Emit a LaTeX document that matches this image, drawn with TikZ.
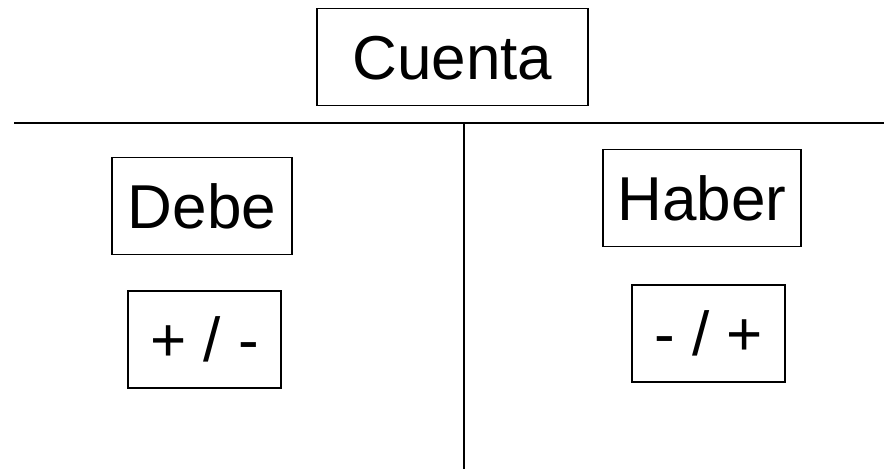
\documentclass[tikz,border=0pt]{standalone}
\usepackage{fontspec}
\setmainfont{Liberation Sans}
\begin{document}
\begin{tikzpicture}[x=1pt,y=-1pt,
  tbox/.style={draw, line width=1.5pt, inner sep=0pt, minimum height=97pt,
    font=\fontsize{62}{74}\selectfont, text height=44.4pt, text depth=0pt},
  tline/.style={line width=2.2pt}]
\useasboundingbox (0,0) rectangle (885,469);
\node[tbox, minimum width=271pt] (cuenta) at (452.5,57) {Cuenta};
\node[tbox, minimum width=180pt] (debe) at (202,206) {Debe};
\node[tbox, minimum width=198pt] (haber) at (702,198) {Haber};
\node[tbox, minimum width=153pt] (pm) at (204.5,339.5) {+ / -};
\node[tbox, minimum width=153pt] (mp) at (708.5,333.5) {- / +};
\coordinate (hl) at (14,123);
\coordinate (hr) at (884,123);
\coordinate (vt) at (464,123);
\coordinate (vb) at (464,469);
\draw[tline] (hl) -- (hr);
\draw[tline] (vt) -- (vb);
\end{tikzpicture}
\end{document}
